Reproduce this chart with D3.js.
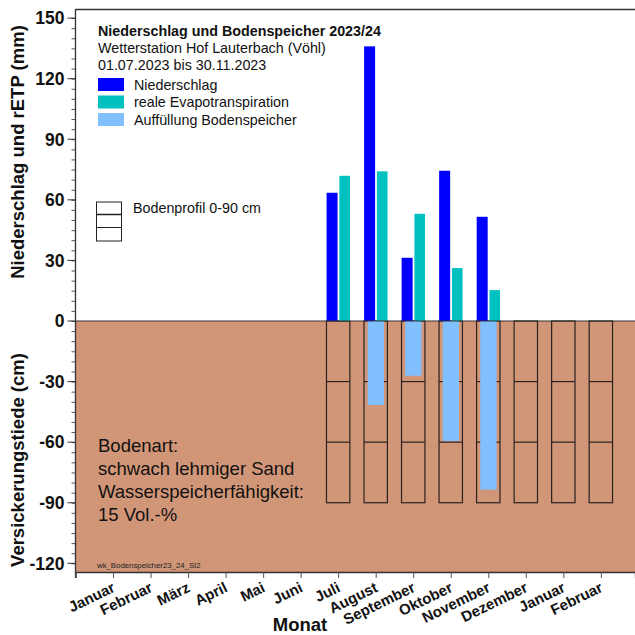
<!DOCTYPE html>
<html>
<head>
<meta charset="utf-8">
<script src="https://cdn.jsdelivr.net/npm/d3@7"></script>
<style>
  body { margin: 0; background: #fff; }
  svg { display: block; font-family: "Liberation Sans", Arial, sans-serif; }
</style>
</head>
<body>
<div id="chart"></div>
<script>
// month labels (tick k = 1..14)
const monthNames = ["Januar", "Februar", "März", "April", "Mai", "Juni", "Juli", "August",
  "September", "Oktober", "November", "Dezember", "Januar", "Februar"];
// measured months (Juli .. November 2023)
const dataMonths = [7, 8, 9, 10, 11];
const niederschlag = [63.5, 136.0, 31.3, 74.4, 51.6];
const evapo = [71.9, 74.1, 53.1, 26.2, 15.3];
const auffuellung = [0, 41.6, 27.1, 59.4, 83.5];
// soil profile boxes shown for Juli .. Februar
const profilMonths = [7, 8, 9, 10, 11, 12, 13, 14];
const profilLayers = [30, 60, 90];
const yTicks = [150, 120, 90, 60, 30, 0, -30, -60, -90, -120];

const width = 635, height = 635;

const x = d3.scaleLinear().domain([0, 14.91]).range([75.5, 635]);
const y = d3.scaleLinear().domain([-124.3, 154.5]).range([572, 9]);

const svg = d3.select("#chart").append("svg")
  .attr("width", width)
  .attr("height", height);

// soil background
svg.append("rect")
  .attr("x", x(0)).attr("y", y(0))
  .attr("width", x(14.91) - x(0))
  .attr("height", y(-124.3) - y(0))
  .attr("fill", "#d19678");

// soil profile boxes
const prof = svg.append("g")
  .attr("fill", "none")
  .attr("stroke", "#2b2020")
  .attr("stroke-width", 1.2);

prof.selectAll("rect")
  .data(profilMonths)
  .join("rect")
  .attr("x", d => x(d) - 11.7)
  .attr("y", y(0))
  .attr("width", 23.4)
  .attr("height", y(-90) - y(0));

profilMonths.forEach(m => {
  prof.selectAll(null)
    .data(profilLayers.slice(0, 2))
    .join("line")
    .attr("x1", x(m) - 11.7).attr("x2", x(m) + 11.7)
    .attr("y1", d => y(-d)).attr("y2", d => y(-d));
});

// Auffüllung Bodenspeicher
svg.append("g").selectAll("rect")
  .data(dataMonths)
  .join("rect")
  .attr("x", d => x(d) - 8)
  .attr("y", y(0))
  .attr("width", 16.3)
  .attr("height", (d, i) => y(-auffuellung[i]) - y(0))
  .attr("fill", "#80c0ff");

// Niederschlag
svg.append("g").selectAll("rect")
  .data(dataMonths)
  .join("rect")
  .attr("x", d => x(d) - 11.6)
  .attr("y", (d, i) => y(niederschlag[i]))
  .attr("width", 11)
  .attr("height", (d, i) => y(0) - y(niederschlag[i]))
  .attr("fill", "#0000ff");

// reale Evapotranspiration
svg.append("g").selectAll("rect")
  .data(dataMonths)
  .join("rect")
  .attr("x", d => x(d) + 1.2)
  .attr("y", (d, i) => y(evapo[i]))
  .attr("width", 10.6)
  .attr("height", (d, i) => y(0) - y(evapo[i]))
  .attr("fill", "#00c0c0");

// frame lines: top, zero
svg.append("line")
  .attr("x1", x(0)).attr("x2", 635).attr("y1", 9.5).attr("y2", 9.5)
  .attr("stroke", "#333").attr("stroke-width", 1.3);
svg.append("line")
  .attr("x1", x(0)).attr("x2", 635).attr("y1", y(0)).attr("y2", y(0))
  .attr("stroke", "#333").attr("stroke-width", 1.2);

// y axis
const yAxis = svg.append("g")
  .attr("transform", `translate(${x(0)},0)`)
  .call(d3.axisLeft(y).tickValues(d3.range(-120, 155, 5)).tickSize(4).tickFormat(""));
yAxis.select(".domain").remove();
yAxis.selectAll("line").attr("stroke", "#555");
svg.append("g").selectAll("line")
  .data(yTicks)
  .join("line")
  .attr("x1", x(0) - 8).attr("x2", x(0))
  .attr("y1", d => y(d)).attr("y2", d => y(d))
  .attr("stroke", "#333");
svg.append("line")
  .attr("x1", x(0)).attr("x2", x(0)).attr("y1", 9).attr("y2", 578)
  .attr("stroke", "#333").attr("stroke-width", 1.3);
svg.append("g").selectAll("text")
  .data(yTicks)
  .join("text")
  .attr("x", 64.5)
  .attr("y", d => y(d))
  .attr("dy", "0.36em")
  .attr("text-anchor", "end")
  .attr("font-size", 17.5)
  .attr("font-weight", "bold")
  .attr("fill", "#111")
  .text(d => d);

// x axis
const xAxis = svg.append("g")
  .attr("transform", `translate(0,${y(-124.3)})`)
  .call(d3.axisBottom(x).tickValues(d3.range(0, 15)).tickSize(6).tickFormat(""));
xAxis.select(".domain").attr("stroke", "#333").attr("stroke-width", 1.3);
xAxis.selectAll(".tick line").attr("stroke", "#555");

svg.append("g").selectAll("text")
  .data(monthNames)
  .join("text")
  .attr("transform", (d, i) => `translate(${x(i + 1) + 3},${591}) rotate(-26)`)
  .attr("text-anchor", "end")
  .attr("font-size", 15)
  .attr("font-weight", "bold")
  .attr("fill", "#111")
  .text(d => d);

svg.append("text")
  .attr("x", 300).attr("y", 631)
  .attr("text-anchor", "middle")
  .attr("font-size", 18.5)
  .attr("font-weight", "bold")
  .attr("fill", "#111")
  .text("Monat");

// y axis titles
svg.append("text")
  .attr("transform", `translate(24,152) rotate(-90)`)
  .attr("text-anchor", "middle")
  .attr("font-size", 18.5)
  .attr("font-weight", "bold")
  .attr("fill", "#111")
  .text("Niederschlag und rETP (mm)");
svg.append("text")
  .attr("transform", `translate(24,460) rotate(-90)`)
  .attr("text-anchor", "middle")
  .attr("font-size", 18.5)
  .attr("font-weight", "bold")
  .attr("fill", "#111")
  .text("Versickerungstiede (cm)");

// legend
const lg = svg.append("g").attr("fill", "#111").attr("font-size", 14.3);
lg.append("text").attr("x", 98).attr("y", 36).attr("font-weight", "bold")
  .text("Niederschlag und Bodenspeicher 2023/24");
lg.append("text").attr("x", 98).attr("y", 53).text("Wetterstation Hof Lauterbach (Vöhl)");
lg.append("text").attr("x", 98).attr("y", 70).text("01.07.2023 bis 30.11.2023");

const legendItems = ["Niederschlag", "reale Evapotranspiration", "Auffüllung Bodenspeicher"];
const legendColors = ["#0000ff", "#00c0c0", "#80c0ff"];
const li = lg.selectAll("g.item")
  .data(legendItems)
  .join("g")
  .attr("class", "item")
  .attr("transform", (d, i) => `translate(98,${78 + i * 17.5})`);
li.append("rect").attr("width", 26).attr("height", 13)
  .attr("fill", (d, i) => legendColors[i]);
li.append("text").attr("x", 36).attr("y", 11.5).text(d => d);

// Bodenprofil legend
const bp = svg.append("g").attr("transform", "translate(96.5,202)");
bp.append("rect").attr("width", 25).attr("height", 39)
  .attr("fill", "none").attr("stroke", "#222").attr("stroke-width", 1);
bp.selectAll("line")
  .data([12.5, 25.5])
  .join("line")
  .attr("x1", 0).attr("x2", 25)
  .attr("y1", d => d).attr("y2", d => d)
  .attr("stroke", "#222").attr("stroke-width", (d, i) => i === 0 ? 1.5 : 1);
svg.append("text").attr("x", 133).attr("y", 213)
  .attr("font-size", 14.3).attr("fill", "#111")
  .text("Bodenprofil 0-90 cm");

// soil text
const soilLines = ["Bodenart:", "schwach lehmiger Sand", "Wasserspeicherfähigkeit:", "15 Vol.-%"];
svg.append("g").selectAll("text")
  .data(soilLines)
  .join("text")
  .attr("x", 98)
  .attr("y", (d, i) => 452 + i * 23)
  .attr("font-size", 18.5)
  .attr("fill", "#111")
  .text(d => d);

svg.append("text")
  .attr("x", 97).attr("y", 568)
  .attr("font-size", 7.8)
  .attr("fill", "#222")
  .text("wk_Bodenspeicher23_24_SI2");
</script>
</body>
</html>
